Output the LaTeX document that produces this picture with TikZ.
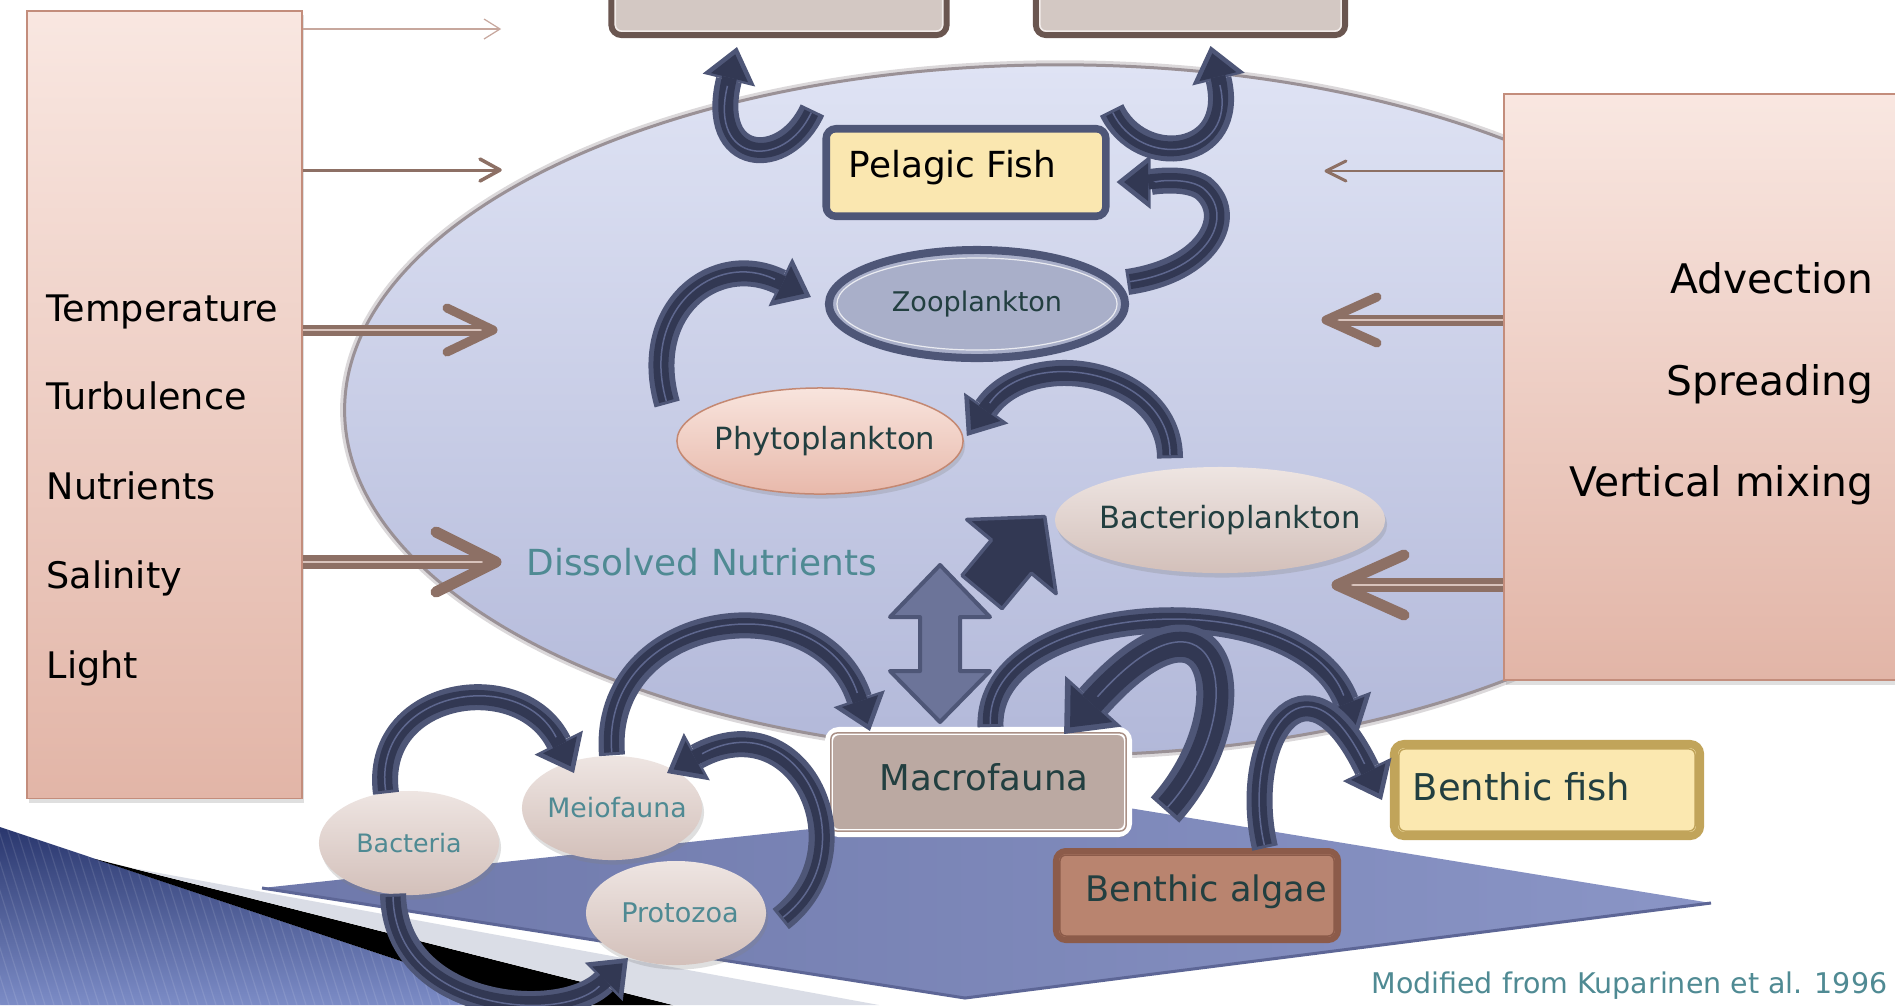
\documentclass[tikz,border=0pt]{standalone}
\usepackage{fontspec}
\setmainfont{DejaVu Sans}
\usetikzlibrary{arrows.meta,shapes.geometric,shadows}
\definecolor{arrOut}{HTML}{4E5677}
\definecolor{arrIn}{HTML}{323853}
\definecolor{arrMid}{HTML}{5E678E}
\definecolor{brA}{HTML}{8D7065}
\definecolor{brLight}{HTML}{C7A79D}
\definecolor{brMid}{HTML}{D8C3BC}
\definecolor{pinkTop}{HTML}{F9E7E1}
\definecolor{pinkBot}{HTML}{E2B5A7}
\definecolor{pinkLine}{HTML}{C38D7C}
\definecolor{ellTop}{HTML}{DFE3F4}
\definecolor{ellBot}{HTML}{B2B8D9}
\definecolor{ellEdge}{HTML}{9A9196}
\definecolor{tFill}{HTML}{D3C8C3}
\definecolor{tLine}{HTML}{6A5650}
\definecolor{tInner}{HTML}{F2ECEA}
\definecolor{pelFill}{HTML}{FAE7B0}
\definecolor{zooFill}{HTML}{A9AFC9}
\definecolor{phyTop}{HTML}{F8E4DD}
\definecolor{phyBot}{HTML}{E8B9AB}
\definecolor{phyLine}{HTML}{C48872}
\definecolor{bacTop}{HTML}{EEE5E2}
\definecolor{bacBot}{HTML}{D3C0BA}
\definecolor{tealT}{HTML}{4F8A93}
\definecolor{darkTeal}{HTML}{223F40}
\definecolor{macFill}{HTML}{BBA9A2}
\definecolor{macLine}{HTML}{A99086}
\definecolor{bfFill}{HTML}{FBE8B0}
\definecolor{bfLine}{HTML}{C1A45A}
\definecolor{baFill}{HTML}{B9846F}
\definecolor{baLine}{HTML}{8C5B4A}
\definecolor{seaL}{HTML}{6E78AA}
\definecolor{seaR}{HTML}{8A95C6}
\definecolor{seaEdge}{HTML}{5D6696}
\definecolor{decoTop}{HTML}{26336A}
\definecolor{decoBot}{HTML}{7C8CC6}
\definecolor{grayBand}{HTML}{DADDE6}
\definecolor{dblFill}{HTML}{6C7499}
\newcommand\fsz[1]{\fontsize{#1pt}{#1pt}\selectfont}
\newcommand\curvarr[2][]{\draw[aout#1] #2; \draw[ain#1] #2; \draw[amid#1] #2;}
\begin{document}
\begin{tikzpicture}[x=0.01cm, y=-0.01cm,
  shd/.style={drop shadow={shadow xshift=0.02cm, shadow yshift=-0.045cm, opacity=0.25}},
  pinkbox/.style={rectangle, draw=pinkLine, line width=0.015cm, top color=pinkTop, bottom color=pinkBot, shd},
  tbox/.style={rectangle, rounded corners=0.1cm, draw=tLine, line width=0.06cm, fill=tFill},
  txt/.style={inner sep=0pt},
  elln/.style={ellipse, inner sep=0pt},
  shaftA/.style={draw=brA, line width=0.045cm, double=brMid, double distance=0.02cm},
  shaftB/.style={draw=brA, line width=0.055cm, double=brMid, double distance=0.025cm},
  headA/.style={draw=brA, line width=0.09cm, line cap=round, line join=round},
  headB/.style={draw=brA, line width=0.11cm, line cap=round, line join=round},
  aout/.style={draw=arrOut, line width=0.26cm, -{Triangle[length=0.34cm,width=0.54cm,line width=0pt]}},
  ain/.style={draw=arrIn, line width=0.15cm, shorten <=0.03cm, shorten >=0.075cm, -{Triangle[length=0.24cm,width=0.38cm,line width=0pt]}},
  amid/.style={draw=arrMid, line width=0.015cm, shorten <=0.03cm, shorten >=0.40cm},
  aoutT/.style={draw=arrOut, line width=0.38cm, -{Triangle[length=0.44cm,width=0.76cm,line width=0pt]}},
  ainT/.style={draw=arrIn, line width=0.25cm, shorten <=0.04cm, shorten >=0.09cm, -{Triangle[length=0.32cm,width=0.56cm,line width=0pt]}},
  amidT/.style={draw=arrMid, line width=0.015cm, shorten <=0.04cm, shorten >=0.50cm},
]
\useasboundingbox (0,0) rectangle (1895,1005);
\fill[white] (0,0) rectangle (1895,1005);

% bottom-left decoration
\begin{scope}
  \clip (0,827) -- (533,1005) -- (0,1005) -- cycle;
  \shade[top color=decoTop, bottom color=decoBot] (0,820) rectangle (540,1005);
  \foreach \i in {0,9,...,760} \draw[white, opacity=0.10, line width=0.012cm] (\i,1005) -- ++(-60,-190);
\end{scope}
\fill[black] (95,859) -- (673,1005) -- (533,1005) -- cycle;
\fill[grayBand] (132,868) -- (879,1005) -- (673,1005) -- cycle;

% seabed
\shade[left color=seaL, right color=seaR] (262,888) -- (1080,800) -- (1711,903) -- (965,998) -- cycle;
\draw[seaEdge, line width=0.03cm, line join=round] (262,888) -- (965,998) -- (1711,903);

% water body
\draw[ellEdge, opacity=0.35, line width=0.09cm] (1060,410) ellipse [x radius=7.15cm, y radius=3.45cm];
\path[top color=ellTop, bottom color=ellBot, draw=ellEdge, line width=0.03cm] (1060,410) ellipse [x radius=7.15cm, y radius=3.45cm];

% side boxes
\node[pinkbox, minimum width=2.75cm, minimum height=7.87cm] (lb) at (164.5,404.5) {};
\node[pinkbox, minimum width=4.06cm, minimum height=5.86cm] (rb) at (1707,387) {};

\node[txt, anchor=base west, font=\fsz{10.4}] (tTemp) at (46,321) {Temperature};
\node[txt, anchor=base west, font=\fsz{10.4}] (tTurb) at (46,409) {Turbulence};
\node[txt, anchor=base west, font=\fsz{10.4}] (tNutr) at (46,499) {Nutrients};
\node[txt, anchor=base west, font=\fsz{10.4}] (tSal) at (46,588) {Salinity};
\node[txt, anchor=base west, font=\fsz{10.4}] (tLight) at (46,678) {Light};

\node[txt, anchor=base east, font=\fsz{11.6}] (tAdv) at (1874,293) {Advection};
\node[txt, anchor=base east, font=\fsz{11.6}] (tSpr) at (1874,395) {Spreading};
\node[txt, anchor=base east, font=\fsz{11.6}] (tVert) at (1874,496) {Vertical mixing};

% brown arrows from the left box
\coordinate (l1) at (500,29);
\draw[brLight, line width=0.012cm] (lb.east |- l1) -- (l1);
\draw[brLight, line width=0.012cm] (l1) ++(-16,-10) -- (l1) -- ++(-16,10);
\coordinate (l2) at (500,170);
\draw[brA, line width=0.03cm] (lb.east |- l2) -- (l2);
\draw[brA, line width=0.035cm, line cap=round, line join=round] (l2) ++(-20,-11) -- (l2) -- ++(-20,11);
\coordinate (l3) at (493,330);
\draw[shaftA] (lb.east |- l3) -- ([xshift=-0.08cm]l3);
\draw[headA] (l3) ++(-46,-22) -- (l3) -- ++(-46,22);
\coordinate (l4) at (496,562);
\draw[shaftB] (lb.east |- l4) -- ([xshift=-0.1cm]l4);
\draw[headB] (l4) ++(-60,-30) -- (l4) -- ++(-60,30);

% brown arrows from the right box
\coordinate (r1) at (1326,171);
\draw[brA, line width=0.025cm] (rb.west |- r1) -- (r1);
\draw[brA, line width=0.03cm, line cap=round, line join=round] (r1) ++(20,-10) -- (r1) -- ++(20,10);
\coordinate (r2) at (1326,320);
\draw[shaftA] (rb.west |- r2) -- ([xshift=0.08cm]r2);
\draw[headA] (r2) ++(51,-23) -- (r2) -- ++(51,23);
\coordinate (r3) at (1337,585);
\draw[shaftB] (rb.west |- r3) -- ([xshift=0.1cm]r3);
\draw[headB] (r3) ++(67,-30) -- (r3) -- ++(67,30);

% top boxes
\node[tbox, minimum width=3.35cm, minimum height=0.70cm] (tl) at (779,0) {};
\node[tbox, minimum width=3.09cm, minimum height=0.70cm] (tr) at (1190.5,0) {};
\draw[tInner, line width=0.015cm, rounded corners=0.06cm] ([shift={(7,-7)}]tl.south west) rectangle ([shift={(-7,7)}]tl.north east);
\draw[tInner, line width=0.015cm, rounded corners=0.06cm] ([shift={(7,-7)}]tr.south west) rectangle ([shift={(-7,7)}]tr.north east);

% pelagic fish
\node[rectangle, rounded corners=0.1cm, draw=arrOut, line width=0.07cm, fill=pelFill, minimum width=2.80cm, minimum height=0.88cm] (pel) at (966,172.5) {};
\draw[arrOut, line width=0.012cm, rounded corners=0.06cm] ([shift={(7,-7)}]pel.south west) rectangle ([shift={(-7,7)}]pel.north east);
\node[txt, anchor=base west, font=\fsz{10.2}] (pelT) at (848,177) {Pelagic Fish};

% plankton
\node[elln, draw=arrOut, line width=0.08cm, fill=zooFill, minimum width=2.96cm, minimum height=1.08cm, font=\fsz{7.7}, text=darkTeal] (zoo) at (977,304) {\makebox[0pt]{Zooplankton}};
\draw[white!75!zooFill, line width=0.012cm] (zoo.center) ellipse [x radius=1.40cm, y radius=0.46cm];
\node[elln, draw=phyLine, line width=0.015cm, top color=phyTop, bottom color=phyBot, minimum width=2.86cm, minimum height=1.06cm, font=\fsz{8.7}, text=darkTeal, shd] (phy) at (820,441) {\makebox[0pt]{\hspace*{0.1cm}Phytoplankton}};
\node[elln, top color=bacTop, bottom color=bacBot, minimum width=3.30cm, minimum height=1.06cm, font=\fsz{8.7}, text=darkTeal, shd] (bac) at (1220,520) {\makebox[0pt]{\hspace*{0.2cm}Bacterioplankton}};

\node[txt, anchor=base west, font=\fsz{10.2}, text=tealT] (dn) at (526,575) {Dissolved Nutrients};

% macrofauna
\node[rectangle, rounded corners=0.1cm, draw=white, line width=0.08cm, fill=macFill, minimum width=2.99cm, minimum height=1.02cm, shd] (mac) at (978.5,782) {};
\draw[macLine, line width=0.015cm, rounded corners=0.06cm] ([shift={(6,-6)}]mac.south west) rectangle ([shift={(-6,6)}]mac.north east);
\node[txt, anchor=base west, font=\fsz{10.1}, text=darkTeal] (macT) at (879,790) {Macrofauna};

% benthic fish
\node[rectangle, rounded corners=0.1cm, draw=bfLine, line width=0.08cm, fill=bfFill, minimum width=3.06cm, minimum height=0.92cm] (bfish) at (1547,790) {};
\draw[bfLine, line width=0.015cm, rounded corners=0.06cm] ([shift={(9,-9)}]bfish.south west) rectangle ([shift={(-9,9)}]bfish.north east);
\node[txt, anchor=base west, font=\fsz{10.5}, text=darkTeal] (bfishT) at (1412,800) {Benthic fish};

% benthic algae
\node[rectangle, rounded corners=0.1cm, draw=baLine, line width=0.06cm, fill=baFill, minimum width=2.82cm, minimum height=0.89cm] (balg) at (1197,895.5) {};
\draw[baLine, line width=0.015cm, rounded corners=0.06cm] ([shift={(7,-7)}]balg.south west) rectangle ([shift={(-7,7)}]balg.north east);
\node[txt, anchor=base west, font=\fsz{10}, text=darkTeal] (balgT) at (1085,901) {Benthic algae};

% benthic small organisms
\node[elln, top color=bacTop, bottom color=bacBot, minimum width=1.80cm, minimum height=1.04cm, font=\fsz{7.6}, text=tealT, shd] (meio) at (612,808) {\makebox[0pt]{\hspace*{0.1cm}Meiofauna}};
\node[elln, top color=bacTop, bottom color=bacBot, minimum width=1.80cm, minimum height=1.04cm, font=\fsz{7.2}, text=tealT, shd] (bact) at (409,843) {\makebox[0pt]{Bacteria}};
\node[elln, top color=bacTop, bottom color=bacBot, minimum width=1.80cm, minimum height=1.04cm, font=\fsz{7.7}, text=tealT, shd] (prot) at (676,913) {\makebox[0pt]{\hspace*{0.08cm}Protozoa}};

\node[txt, anchor=base east, font=\fsz{8.1}, text=tealT] (cred) at (1888,993) {Modified from Kuparinen et al. 1996};

% block arrows
\draw[arrOut, line width=0.04cm, fill=dblFill, line join=round] (940,565) -- (890,617) -- (920,617) -- (920,671) -- (890,671) -- (940,722) -- (990,671) -- (960,671) -- (960,617) -- (990,617) -- cycle;
\draw[arrOut, line width=0.035cm, fill=arrIn, line join=round] (1002,608.6) -- (962,575.4) -- (991.4,540) -- (966.7,519.5) -- (1044.7,516.6) -- (1056.1,593.7) -- (1031.4,573.2) -- cycle;

% curved arrows
\curvarr{([shift={(-10,-15)}]pel.north west) .. controls (785,170) and (708,165) .. ([shift={(-42,9)}]tl.south)}
\curvarr{([shift={(2,-15)}]pel.north east) .. controls (1140,170) and (1238,160) .. ([shift={(20,8)}]tr.south)}
\curvarr{([shift={(-2,-22)}]zoo.east) .. controls (1210,270) and (1236,215) .. (1203,188) .. controls (1186,176) and (1150,182) .. ([shift={(7,9.5)}]pel.east)}
\curvarr{([shift={(-9,-37)}]phy.west) .. controls (640,310) and (715,250) .. ([shift={(-14,-7)}]zoo.west)}
\curvarr{([shift={(-50,-8)}]bac.north) .. controls (1170,370) and (1030,345) .. ([shift={(3,-5)}]phy.east)}
\curvarr{(meio.north) .. controls (600,610) and (820,580) .. ([shift={(45,4)}]mac.north west)}
\curvarr{([shift={(-23,3)}]bact.north) .. controls (372,690) and (520,665) .. ([shift={(-38,-35)}]meio.center)}
\curvarr{([shift={(14,6)}]prot.east) .. controls (870,850) and (800,700) .. ([shift={(55,-35)}]meio.center)}
\curvarr{([shift={(-16,-2)}]bact.south) .. controls (395,1010) and (560,1025) .. ([shift={(-48,45)}]prot.center)}
\curvarr{([shift={(12,0)}]mac.north) .. controls (985,600) and (1300,580) .. ([shift={(-32,-7)}]bfish.north west)}
\curvarr{([shift={(68,0)}]balg.north) .. controls (1240,740) and (1305,640) .. ([shift={(-8,10)}]bfish.west)}
\curvarr[T]{([shift={(-32,-38)}]balg.north) .. controls (1255,710) and (1220,560) .. ([shift={(-68,7)}]mac.north east)}
\end{tikzpicture}
\end{document}
